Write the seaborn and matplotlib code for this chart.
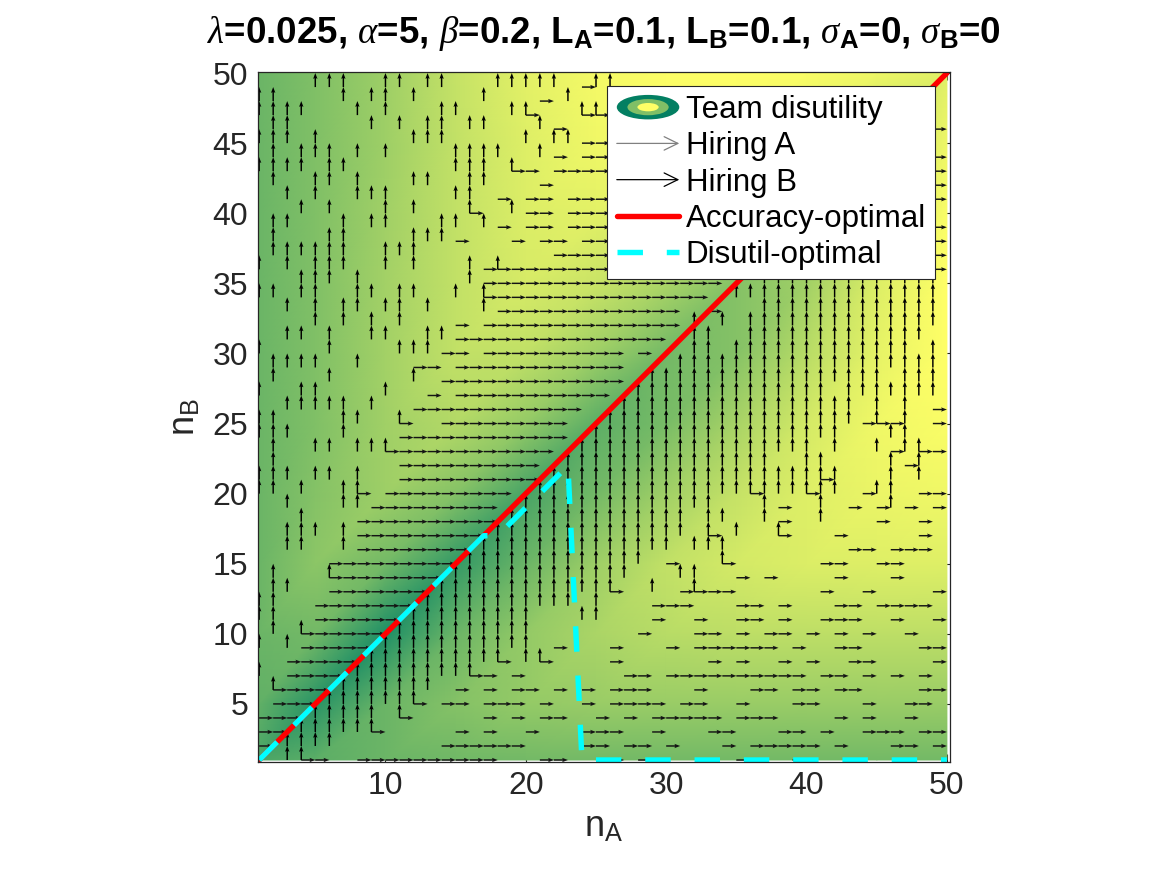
import numpy as np
import matplotlib
matplotlib.use('Agg')
import matplotlib.pyplot as plt
import matplotlib.tri as mtri
import seaborn as sns
from matplotlib.patches import Ellipse, FancyArrowPatch
from matplotlib.lines import Line2D

# ==========================================
# DATA
# ==========================================
# colour level (0 = dark green, 1 = yellow) of the team disutility surface,
# sampled at these nA / nB values; rows go from nB=50 (top) down to nB=1
grid_n = [1, 5, 10, 15, 20, 25, 30, 35, 40, 45, 50]
disutil_rows = [
    [0.42, 0.50, 0.62, 0.77, 0.89, 0.96, 0.99, 1.00, 0.98, 0.93, 0.88],  # nB=50
    [0.42, 0.50, 0.62, 0.76, 0.87, 0.94, 0.96, 0.93, 0.86, 0.74, 0.93],  # nB=45
    [0.42, 0.50, 0.63, 0.76, 0.86, 0.89, 0.83, 0.72, 0.60, 0.78, 0.98],  # nB=40
    [0.42, 0.50, 0.64, 0.76, 0.84, 0.79, 0.67, 0.52, 0.63, 0.86, 1.00],  # nB=35
    [0.42, 0.50, 0.64, 0.76, 0.75, 0.62, 0.45, 0.52, 0.72, 0.90, 1.00],  # nB=30
    [0.42, 0.50, 0.63, 0.70, 0.58, 0.36, 0.47, 0.66, 0.83, 0.94, 0.98],  # nB=25
    [0.42, 0.52, 0.62, 0.52, 0.28, 0.45, 0.63, 0.77, 0.87, 0.92, 0.94],  # nB=20
    [0.42, 0.55, 0.45, 0.20, 0.42, 0.62, 0.76, 0.83, 0.86, 0.87, 0.87],  # nB=15
    [0.42, 0.45, 0.12, 0.42, 0.58, 0.67, 0.72, 0.74, 0.74, 0.74, 0.74],  # nB=10
    [0.38, 0.16, 0.42, 0.52, 0.58, 0.60, 0.60, 0.60, 0.60, 0.60, 0.60],  # nB=5
    [0.30, 0.36, 0.42, 0.44, 0.45, 0.45, 0.45, 0.45, 0.45, 0.45, 0.45],  # nB=1
]

# hiring decision at every (nA, nB): '>' hire A, '^' hire B, '+' both, '.' none
# one string per nB (50 at top), characters run nA = 1..50
hire_rows = [
    ".........." ".........." ".........." ".........." "..........",  # 50
    "....^^^..^" "^.^^...^^^" "^^.>^^...." ".........." "..........",  # 49
    "^^....^.^^" ".^....^..." ">.^......." ".........." "..........",  # 48
    "^^^^...^.^" "...^^...^+" "...++....." ".........." "..........",  # 47
    ".^^.....^." "^.^^.^^..." "^>...>...." ".........." "........>.",  # 46
    "^^^.^....." ".^^^.....^" ".^^>>....." ".........." "..........",  # 45
    ".^.^^^.^.^" "....^^^^.." "^>.>>....." ".........." "........>.",  # 44
    "^^^^.^^..." "....^^^.+>" ".>>>>>...." ".........." "........>.",  # 43
    ".^..^^.^.." ".^^..^^..." ">........." ".........." "........>.",  # 42
    "..^.^..^^^" "....^^.>.>" ">.>>>>...." ".........." "........>.",  # 41
    "...^.^...^" ".^...+..^>" ">.>>>>...." ".........." "..........",  # 40
    ".^^...^.^^" "...^^.^>.>" ">.>>>>...." ".........." "........>.",  # 39
    ".^...^^..." ".^^^>...>." ">>.>>>...." ".........." "........>.",  # 38
    ".^^^^^^..^" "^^........" ".>>>>>...." ".........." "........>.",  # 37
    "^.^.^^^..^" ".^...^>+>>" ">>>>>>...." ".........." "........>.",  # 36
    "...^^^.^.." ".....^>>>>" ">>>>>>>>>>" ">>>...^^^^" "^^^^^^^^^.",  # 35
    "^^.^^..^^." "^^..^.+>>>" ">>>>>>>>>>" ">>..^^^^^^" "^^^^^^^^^.",  # 34
    "..^.^.^^.^" "^.^...^>>>" ">>>>>>>>>>" "..>...^^^^" "^^^^^^^^^.",  # 33
    "....^.^.^." "^...>.>>>>" ">>>>>>>>>>" ".^.^.^^^^^" "^^^^^^^^^.",  # 32
    "..^^.^..^^" "..^^>>>>>>" ">>>>>>>>>." ".^^..^^^^^" "^^^^^^^^..",  # 31
    "^....^...." "^^^>>.>>>>" ">>>>>>.>.." ".^^.^^^^^^" "^^^^^^^.^.",  # 30
    ".^^^^..^.." ".>>.>>>>>>" ">>>>>>...." "^^^^^^^^^^" "^^^^^^^^^.",  # 29
    ".^...^...." ".^.>>>>>>>" ">>>>>>..^^" "^^^^^^^^^^" "^^^^^.^^^.",  # 28
    "^..^^....^" "..>.>>>>>>" ">>>>>..^^^" "^^^^^^^^^^" "^.^^^^^^^.",  # 27
    "..^^^^^.^." ".>>>>>>>>>" ">>>...^^^^" "^^^^^^^^^^" "^^^.^.^.>.",  # 26
    "^^....^^.." "+..>>>>>>>" ">>...^^^^^" "^^^^^^^^^^" "^^^>+>^.>.",  # 25
    "^^^...^..." ">>>>>>>>>>" ">>..^^^^^^" "^^^^^^^^^^" "^^...^^...",  # 24
    ".^..^^.^^+" ">>>>>>>>>>" ">..^^^^^^^" "^^^^^^^^^^" ".^..^>^+>.",  # 23
    ".^........" ">>>>>>>>>>" "..^^^^^^^^" "^^^^^^^..^" "^....^>^..",  # 22
    "^^^.^^.^.." ">>>>>>>>>>" ".^^^^^^^^^" "^^^^^^^^^^" "+^...^.^..",  # 21
    "^^.^..^+.>" ">>>>>>>>.." "^^^^^^^^^^" "^^^^^+^^^+" "^^.>^^.>>.",  # 20
    "..^...^^>>" ">>>>>>>..^" "^^^^^^^^^^" "^^^...^>.." "^.>.>^>.>.",  # 19
    "...^...>>>" ">>>>>>>.^^" "^^^^^^^^^^" "^.^^..^>.." "^...>..>..",  # 18
    "..^^^.^>>>" ">>>>>>.^^^" "^^^^^^^^^^" "^.+.^..+.." ".>.....>..",  # 17
    "..^^..^>>>" ">>>>>.^^^^" "^^^^^^^^^^" ".^^^......" "..>>.>>>..",  # 16
    ".....>>>>>" ">>>>.^^^^^" "^^^^^^^^.>" "...+......" ">>..>>....",  # 15
    ".^...+>>>>" ">>>.^^^^^^" "^^^^^^^..." "^^..>.>..." ".>...>....",  # 14
    ".^^..>>>>>" ">>.^^^^^^^" "^^^^^+..^." ">+>>......" ">..>....>.",  # 13
    "^^..>>>>>>" ">.^^^^^^^^" "^^^.^...>>" ">...>>.>.." ".>>.>>>>..",  # 12
    "^^..>>>>>>" ".^^^^^^^^^" "...^^...>." ".>..>>.>.." ">>>..>..>.",  # 11
    ".^.+>>>>>." "^^^^^^^^^^" ".......>.." ".>>.>.>>.>" ".>.>..>...",  # 10
    "^.^>>>>>.^" "^^^^^^^^^^" ".>...>...>" ".>>>>>>.>." ".>>....>>.",  # 9
    "..>>>>>.^^" "^^^^^^^+.^" "+....>...." "..>.>..>.>" "..>>....>.",  # 8
    "^.>>>>.^^^" "^^^^^+>.>." "......>>.>" ">>>>>>>>>." ">>.>.>.>..",  # 7
    ".+>>>.^^^^" "^^^.>.>.>>" ".>.>.>>>.." ".>...>>.>>" ".>>....>>.",  # 6
    ".>>>.^^^^^" "^+.>>.>>>." ">..>.>>>>." ">>..>...>>" "...>..>>..",  # 5
    ">>>.^^^^^." "+.....>.>." ">>..>.>.>>" ">>>.>>>..." ".>.>..>...",  # 4
    ">>.^^^^^+." "....>.>..>" "...>>>..>." "..>>...>>." ">..>>>.>>.",  # 3
    ">.^^^^...." "...>>>>>>." "...>>.>>.>" "...>.>>>>>" ".>...>>.>.",  # 2
    "..^+>..>>>" ">>>>>>>..." ">>...>.>.." "....>...>." "..........",  # 1
]

# accuracy-optimal team: nB = nA all the way
acc_nA = [1, 50]
acc_nB = [1, 50]

# disutility-optimal nB for every nA
dis_nA = [1, 2, 3, 4, 5, 6, 7, 8, 9, 10, 11, 12, 13, 14, 15, 16, 17,
          18, 19, 20, 21, 22, 23,
          24, 25, 26, 27, 28, 29, 30, 31, 32,
          33, 34, 35, 36, 37, 38, 39, 40, 41,
          42, 43, 44, 45, 46, 47, 48, 49, 50]
dis_nB = [1, 2, 3, 4, 5, 6, 7, 8, 9, 10, 11, 12, 13, 14, 15, 16, 17,
          17, 18, 19, 20, 21, 22,
          1, 1, 1, 1, 1, 1, 1, 1, 1,
          1, 1, 1, 1, 1, 1, 1, 1, 1,
          1, 1, 1, 1, 1, 1, 1, 1, 1]

x_ticks = [10, 20, 30, 40, 50]
y_ticks = [5, 10, 15, 20, 25, 30, 35, 40, 45, 50]

# ==========================================
# PREPARE
# ==========================================
hire_a_x, hire_a_y, hire_b_x, hire_b_y = [], [], [], []
for k, row in enumerate(hire_rows):
    if len(row) != 50:
        raise ValueError(f"row {50 - k} has {len(row)} cells")
    nb = 50 - k
    for i, ch in enumerate(row):
        if ch in '>+':
            hire_a_x.append(i + 1); hire_a_y.append(nb)
        if ch in '^+':
            hire_b_x.append(i + 1); hire_b_y.append(nb)

levels = np.array(disutil_rows)[::-1]
gx, gy = np.meshgrid(grid_n, grid_n)
n = len(grid_n)
tris = []
for j in range(n - 1):
    for i in range(n - 1):
        a = j * n + i
        tris.append([a, a + 1, a + n + 1])
        tris.append([a, a + n + 1, a + n])
triang = mtri.Triangulation(gx.ravel(), gy.ravel(), tris)

# ==========================================
# PLOT
# ==========================================
sns.set_theme(style="white")
plt.rcParams['font.family'] = ['Liberation Sans', 'DejaVu Sans']
plt.rcParams['mathtext.fontset'] = 'custom'
plt.rcParams['mathtext.rm'] = 'Liberation Sans'
plt.rcParams['mathtext.it'] = 'Liberation Serif:italic'
plt.rcParams['mathtext.bf'] = 'Liberation Sans:bold'
axis_col = '#262626'

fig = plt.figure(figsize=(11.67, 8.75), dpi=100)
ax = fig.add_axes([0.2211, 0.1295, 0.5927, 0.7883])

ax.tripcolor(triang, levels.ravel(), shading='gouraud', cmap='summer',
             vmin=0, vmax=1, zorder=1)

quiver_kw = dict(angles='xy', scale_units='xy', scale=1, width=0.0021,
                 headwidth=3.0, headlength=4.0, headaxislength=3.5, zorder=2)
ax.quiver(hire_a_x, hire_a_y, np.ones(len(hire_a_x)), np.zeros(len(hire_a_x)),
          color='#141414', **quiver_kw)
ax.quiver(hire_b_x, hire_b_y, np.zeros(len(hire_b_x)), np.ones(len(hire_b_x)),
          color='black', **quiver_kw)

sns.lineplot(x=acc_nA, y=acc_nB, color='red', linewidth=3.9, sort=False,
             estimator=None, legend=False, ax=ax, zorder=3)
dash_style = (0, (4.7, 4.4))
sns.lineplot(x=dis_nA, y=dis_nB, color='cyan', linewidth=3.9, linestyle=dash_style,
             sort=False, estimator=None, legend=False, ax=ax, zorder=4)

ax.set_xlim(0.92, 50.2)
ax.set_ylim(0.88, 50.08)
ax.set_xticks(x_ticks)
ax.set_yticks(y_ticks)
ax.tick_params(direction='in', length=6, width=0.8, bottom=True, left=True,
               top=True, right=True, labelsize=23, colors=axis_col, pad=7)
for sp in ax.spines.values():
    sp.set_visible(True)
    sp.set_color(axis_col)
    sp.set_linewidth(0.9)
    sp.set_zorder(6)

ax.set_xlabel(r'n$_{\mathregular{A}}$', fontsize=26, color=axis_col, labelpad=6)
ax.set_ylabel(r'n$_{\mathregular{B}}$', fontsize=26, color=axis_col, labelpad=7)
ax.set_title(r'$\lambda$=0.025, $\alpha$=5, $\beta$=0.2, L$_\mathbf{A}$=0.1, '
             r'L$_\mathbf{B}$=0.1, $\sigma_\mathbf{A}$=0, $\sigma_\mathbf{B}$=0',
             fontsize=26.5, fontweight='bold', color='black', pad=21)


# --- custom legend handles ---
class DisutilityHandle:
    pass


class HiringHandle:
    def __init__(self, color):
        self.color = color


class DisutilityHandler:
    def legend_artist(self, legend, orig_handle, fontsize, handlebox):
        x0, y0 = -handlebox.xdescent, -handlebox.ydescent
        w, h = handlebox.width, handlebox.height
        art = None
        for frac, col in [(1.0, '#037f62'), (0.66, '#80bf66'), (0.34, '#ffff66')]:
            art = Ellipse((x0 + w / 2, y0 + h / 2), w * frac, h * 1.12 * frac,
                          facecolor=col, edgecolor='none',
                          transform=handlebox.get_transform())
            handlebox.add_artist(art)
        return art


class HiringHandler:
    def legend_artist(self, legend, orig_handle, fontsize, handlebox):
        x0, y0 = -handlebox.xdescent, -handlebox.ydescent
        w, h = handlebox.width, handlebox.height
        arr = FancyArrowPatch((x0, y0 + h / 2), (x0 + w, y0 + h / 2),
                              arrowstyle='->,head_length=0.45,head_width=0.22',
                              mutation_scale=22, lw=0.9, color=orig_handle.color,
                              shrinkA=0, shrinkB=0,
                              transform=handlebox.get_transform())
        handlebox.add_artist(arr)
        return arr


handles = [DisutilityHandle(), HiringHandle('#808080'), HiringHandle('black'),
           Line2D([], [], color='red', lw=3.9),
           Line2D([], [], color='cyan', lw=3.9, linestyle=dash_style)]
labels = ['Team disutility', 'Hiring A', 'Hiring B', 'Accuracy-optimal', 'Disutil-optimal']
leg = ax.legend(handles, labels,
                handler_map={DisutilityHandle: DisutilityHandler(), HiringHandle: HiringHandler()},
                loc='upper right', bbox_to_anchor=(0.979, 0.980), borderaxespad=0,
                fontsize=22.5, frameon=True, fancybox=False, framealpha=1,
                edgecolor=axis_col, facecolor='white', handlelength=2.0,
                handletextpad=0.2, labelspacing=0.2, borderpad=0.3)
leg.get_frame().set_linewidth(0.8)
leg.set_zorder(10)
for t in leg.get_texts():
    t.set_color('black')

fig.savefig('out.png', dpi=100)
